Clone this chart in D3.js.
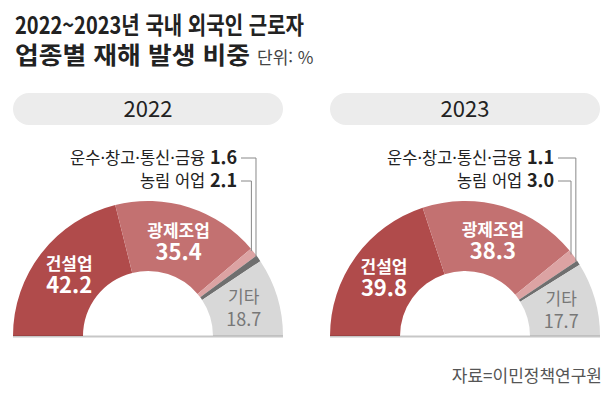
<!DOCTYPE html>
<html lang="ko">
<head>
<meta charset="UTF-8">
<title>외국인 근로자 업종별 재해 발생 비중</title>
<script src="https://cdn.jsdelivr.net/npm/d3@7"></script>
<style>
body{margin:0;background:#fff;}
text{font-family:"Noto Sans CJK KR","Noto Sans",sans-serif;}
</style>
</head>
<body>
<script>
// 데이터
var years = ["2022", "2023"];
var categories = ["건설업", "광제조업", "농림 어업", "운수·창고·통신·금융", "기타"];
var values2022 = [42.2, 35.4, 2.1, 1.6, 18.7];
var values2023 = [39.8, 38.3, 3.0, 1.1, 17.7];
var colors = ["#b04b4b", "#c37171", "#dca3a3", "#6f6f6f", "#d8d8d8"];

var width = 616, height = 399;
var svg = d3.select("body").append("svg").attr("width", width).attr("height", height);

// 제목
svg.append("text").attr("x", 15).attr("y", 34)
  .attr("font-size", 24).attr("font-weight", 700).attr("fill", "#222")
  .attr("textLength", 289).attr("lengthAdjust", "spacingAndGlyphs")
  .text("2022~2023년 국내 외국인 근로자");
svg.append("text").attr("x", 15).attr("y", 64)
  .attr("font-size", 24).attr("font-weight", 700).attr("fill", "#222")
  .attr("textLength", 235).attr("lengthAdjust", "spacingAndGlyphs")
  .text("업종별 재해 발생 비중");
svg.append("text").attr("x", 257).attr("y", 64)
  .attr("font-size", 17).attr("fill", "#444")
  .text("단위: %");

// 출처
svg.append("text").attr("x", 602).attr("y", 382).attr("text-anchor", "end")
  .attr("font-size", 17).attr("fill", "#555").text("자료=이민정책연구원");

var outerR = 135, innerR = 65, cy = 336;
var centers = [148, 465];
var pie = d3.pie().sort(null).startAngle(-Math.PI / 2).endAngle(Math.PI / 2);
var arc = d3.arc().innerRadius(innerR).outerRadius(outerR);
var labelArc = d3.arc().innerRadius(100).outerRadius(100);

function drawChart(year, values, cx) {
  var g = svg.append("g");
  // 연도 머리
  g.append("rect").attr("x", cx - 135).attr("y", 93).attr("width", 270).attr("height", 32)
    .attr("rx", 16).attr("fill", "#ececec");
  g.append("text").attr("x", cx).attr("y", 117).attr("text-anchor", "middle")
    .attr("font-size", 22).attr("fill", "#222").text(year);

  var chart = g.append("g").attr("transform", "translate(" + cx + "," + cy + ")");
  var arcs = pie(values);
  chart.selectAll("path").data(arcs).enter().append("path")
    .attr("d", arc).attr("fill", function(d, i){ return colors[i]; });

  // 바닥선
  g.append("line").attr("x1", cx - outerR).attr("x2", cx + outerR)
    .attr("y1", cy + 0.5).attr("y2", cy + 0.5)
    .attr("stroke", "rgba(0,0,0,0.22)").attr("stroke-width", 2);

  // 안쪽 라벨 (건설업, 광제조업, 기타)
  [0, 1, 4].forEach(function(i){
    var c = labelArc.centroid(arcs[i]);
    var fill = i === 4 ? "#777" : "#fff";
    chart.append("text").attr("x", c[0]).attr("y", c[1] - 4).attr("text-anchor", "middle")
      .attr("font-size", 17).attr("font-weight", i === 4 ? 400 : 700).attr("fill", fill)
      .text(categories[i]);
    chart.append("text").attr("x", c[0]).attr("y", c[1] + 19).attr("text-anchor", "middle")
      .attr("font-size", i === 4 ? 18 : 22).attr("font-weight", i === 4 ? 400 : 700).attr("fill", fill)
      .text(values[i].toFixed(1));
  });

  // 작은 항목 지시선 (운수 위, 농림 아래)
  var textX = cx + 89;
  [[3, 164], [2, 187]].forEach(function(p){
    var i = p[0], by = p[1];
    var t = g.append("text").attr("x", textX).attr("y", by).attr("text-anchor", "end")
      .attr("font-size", 16.5).attr("fill", "#222");
    t.append("tspan").text(categories[i] + " ");
    t.append("tspan").attr("font-weight", 700).attr("font-size", 18).text(values[i].toFixed(1));
    var a = (arcs[i].startAngle + arcs[i].endAngle) / 2;
    var px = cx + Math.sin(a) * (outerR - 3), py = cy - Math.cos(a) * outerR;
    var ly = by - 6;
    g.append("path")
      .attr("d", "M" + (textX + 4) + "," + ly + "H" + px + "V" + (py - 1))
      .attr("fill", "none").attr("stroke", "#888").attr("stroke-width", 1);
  });
}

drawChart(years[0], values2022, centers[0]);
drawChart(years[1], values2023, centers[1]);
</script>
</body>
</html>
